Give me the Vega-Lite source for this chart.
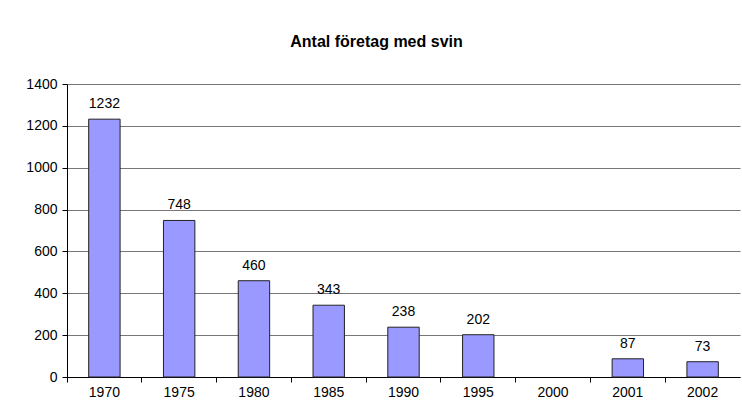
{
  "$schema": "https://vega.github.io/schema/vega-lite/v6.json",
  "width": 673,
  "height": 293,
  "autosize": {"type": "none"},
  "padding": {"left": 67, "top": 84, "right": 2, "bottom": 40},
  "background": "white",
  "title": {
    "text": "Antal företag med svin",
    "font": "Liberation Sans",
    "fontSize": 16,
    "fontWeight": "bold",
    "color": "black",
    "anchor": "middle",
    "frame": "group",
    "dx": -27,
    "offset": 14,
    "baseline": "alphabetic"
  },
  "data": {
    "values": [
      {"year": "1970", "count": 1232},
      {"year": "1975", "count": 748},
      {"year": "1980", "count": 460},
      {"year": "1985", "count": 343},
      {"year": "1990", "count": 238},
      {"year": "1995", "count": 202},
      {"year": "2000", "count": null},
      {"year": "2001", "count": 87},
      {"year": "2002", "count": 73}
    ]
  },
  "encoding": {
    "x": {
      "field": "year",
      "type": "nominal",
      "sort": null,
      "scale": {
        "domain": ["1970", "1975", "1980", "1985", "1990", "1995", "2000", "2001", "2002"],
        "paddingInner": 0.58,
        "paddingOuter": 0.29
      },
      "axis": {
        "title": null,
        "labelAngle": 0,
        "bandPosition": -0.69,
        "domainColor": "#000",
        "tickColor": "#000",
        "tickSize": 5,
        "labelFont": "Liberation Sans",
        "labelFontSize": 14,
        "labelColor": "#000",
        "labelPadding": 3
      }
    },
    "y": {
      "field": "count",
      "type": "quantitative",
      "scale": {"domain": [0, 1400], "nice": false},
      "axis": {
        "title": null,
        "values": [0, 200, 400, 600, 800, 1000, 1200, 1400],
        "format": "d",
        "grid": true,
        "gridColor": "#777",
        "gridOpacity": 1,
        "gridWidth": 1,
        "domainColor": "#000",
        "tickColor": "#000",
        "tickSize": 5,
        "labelFont": "Liberation Sans",
        "labelFontSize": 14,
        "labelColor": "#000",
        "labelPadding": 5
      }
    }
  },
  "layer": [
    {
      "mark": {"type": "bar", "fill": "#9999FF", "stroke": "#222", "strokeWidth": 1}
    },
    {
      "transform": [{"filter": "datum.count != null"}],
      "mark": {
        "type": "text",
        "baseline": "alphabetic",
        "dy": -11,
        "fontSize": 14,
        "font": "Liberation Sans",
        "color": "#000"
      },
      "encoding": {"text": {"field": "count", "type": "quantitative"}}
    }
  ],
  "config": {"view": {"stroke": null}}
}
